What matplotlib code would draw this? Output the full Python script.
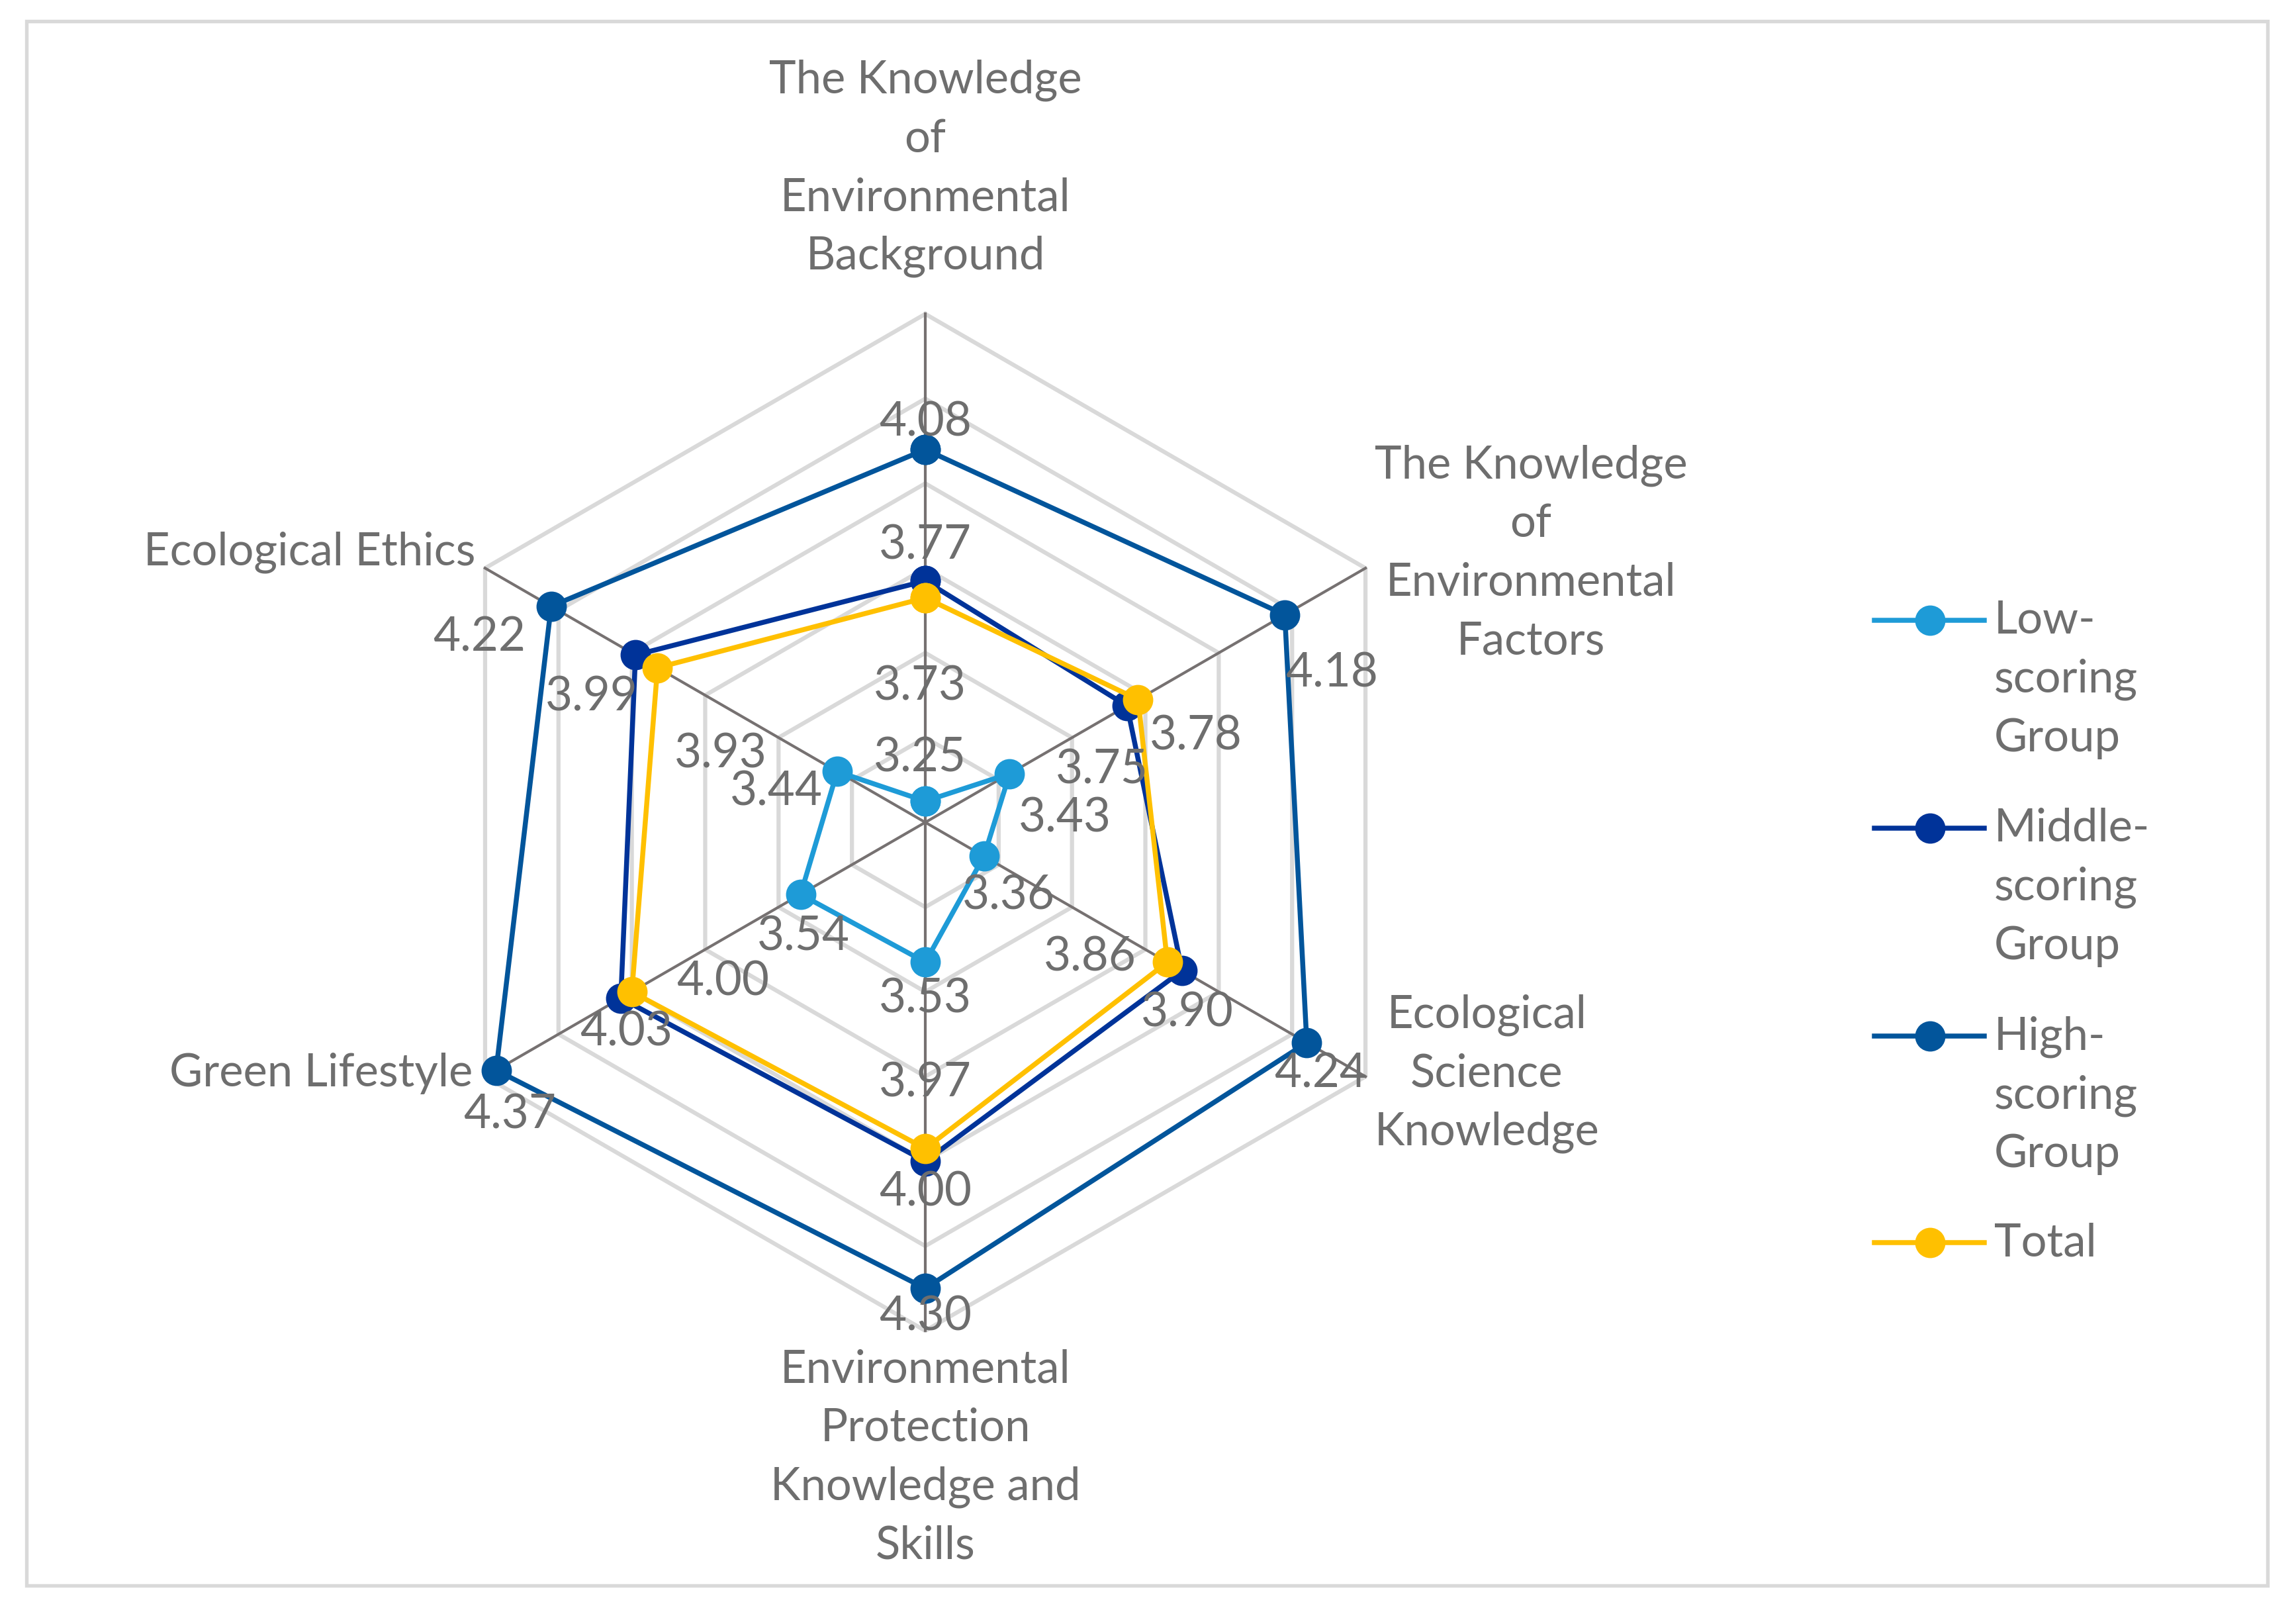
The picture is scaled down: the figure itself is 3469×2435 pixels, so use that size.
import numpy as np
import matplotlib.pyplot as plt
from matplotlib.lines import Line2D
from matplotlib.patches import Rectangle

plt.rcParams['font.family'] = ['Lato', 'DejaVu Sans']

# categories, clockwise from the top
categories = ['The Knowledge\nof\nEnvironmental\nBackground',
              'The Knowledge\nof\nEnvironmental\nFactors',
              'Ecological\nScience\nKnowledge',
              'Environmental\nProtection\nKnowledge and\nSkills',
              'Green Lifestyle',
              'Ecological Ethics']

series_names = ['Low-\nscoring\nGroup', 'Middle-\nscoring\nGroup',
                'High-\nscoring\nGroup', 'Total']
low = [3.25, 3.43, 3.36, 3.53, 3.54, 3.44]
middle = [3.77, 3.75, 3.90, 4.00, 4.03, 3.99]
high = [4.08, 4.18, 4.24, 4.30, 4.37, 4.22]
total = [3.73, 3.78, 3.86, 3.97, 4.00, 3.93]

r_min, r_max, r_step = 3.2, 4.4, 0.2

colors = ['#1E9BD7', '#003399', '#02559B', '#FFC000']
text_col = '#6E6E6E'

# label offsets (points) for each series / axis -- placed by hand like excel does
label_off = [
    [(-2, 16), (20, -16), (9, -14), (0, -13), (1, -15), (-22, -7)],      # low
    [(0, 13), (-9, -23), (2, -15), (0, -11), (2, -12), (-16, -15)],      # middle
    [(0, 10), (17, -21), (5, -11), (0, -10), (5, -16), (-26, -11)],      # high
    [(-2, -32), (21, -13), (-28, 2), (0, 24), (33, 4), (23, -31)],       # total
]

fig = plt.figure(figsize=(3469 / 300, 2436 / 300), dpi=300)
fig.add_artist(Rectangle((0.0115, 0.0165), 0.976, 0.970, transform=fig.transFigure,
                         fill=False, edgecolor='#D9D9D9', lw=1.3))

ax = fig.add_axes([0.1816, 0.1744, 0.4428, 0.6305], projection='polar')
ax.set_theta_zero_location('N')
ax.set_theta_direction(-1)
ax.set_ylim(r_min, r_max)
ax.grid(False)
ax.set_xticks([])
ax.set_yticks([])
ax.spines['polar'].set_visible(False)
ax.patch.set_alpha(0)

n = len(categories)
ang = np.linspace(0, 2 * np.pi, n, endpoint=False)
ang_c = np.append(ang, ang[0])

# hexagon gridlines
for lev in np.arange(r_min + r_step, r_max + 1e-6, r_step):
    ax.plot(ang_c, [lev] * (n + 1), color='#D9D9D9', lw=1.5, zorder=1, clip_on=False)
for a in ang:
    ax.plot([a, a], [r_min, r_max], color='#767171', lw=1.0, zorder=2, clip_on=False)

data = [low, middle, high, total]
for vals, c, offs in zip(data, colors, label_off):
    v = np.append(vals, vals[0])
    ax.plot(ang_c, v, color=c, lw=1.8, marker='o', ms=10, zorder=3, clip_on=False)
    for a, val, off in zip(ang, vals, offs):
        ax.annotate(f'{val:.2f}', xy=(a, val), xytext=off, textcoords='offset points',
                    ha='center', va='center', fontsize=17, color=text_col, zorder=5)

# category labels
cat_off = [(0, 53), (60, 5.6), (44, 1.3), (0, -45.7), (-4.5, 1.3), (-3.5, 6.1)]
cat_ha = ['center', 'center', 'center', 'center', 'right', 'right']
for a, lab, off, h in zip(ang, categories, cat_off, cat_ha):
    ax.annotate(lab, xy=(a, r_max), xytext=off, textcoords='offset points',
                ha=h, va='center', multialignment='center', linespacing=1.5,
                fontsize=16.5, color=text_col, annotation_clip=False)

# legend drawn by hand so the marker sits on the first line of each label
leg_y = [938, 1252, 1566, 1878]
for name, c, yy in zip(series_names, colors, leg_y):
    yf = 1 - yy / 2436
    fig.add_artist(Line2D([2832 / 3469, 2998 / 3469], [yf, yf], color=c, lw=1.8,
                          transform=fig.transFigure))
    fig.add_artist(Line2D([2916 / 3469], [yf], color=c, marker='o', ms=10,
                          transform=fig.transFigure))
    fig.text(3013 / 3469, yf + 0.013, name, ha='left', va='top', fontsize=16.5,
             color=text_col, linespacing=1.5)

plt.savefig('out.png', dpi=300)
